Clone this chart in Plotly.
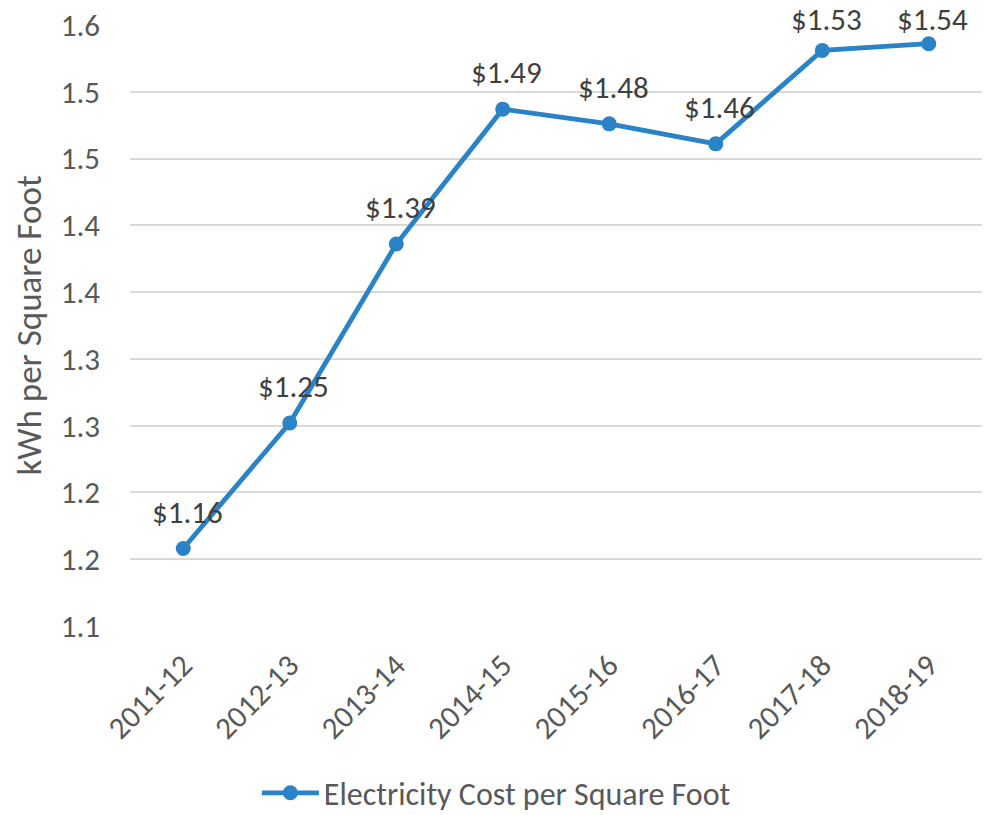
import plotly.graph_objects as go

years = ["2011-12", "2012-13", "2013-14", "2014-15", "2015-16", "2016-17", "2017-18", "2018-19"]
cost = [1.158, 1.252, 1.386, 1.487, 1.476, 1.461, 1.531, 1.536]
y_tickvals = [1.10, 1.15, 1.20, 1.25, 1.30, 1.35, 1.40, 1.45, 1.50, 1.55]
y_ticktext = ["1.1", "1.2", "1.2", "1.3", "1.3", "1.4", "1.4", "1.5", "1.5", "1.6"]

FONT = "Carlito, Lato, sans-serif"
BLUE = "#2A83C6"
Y0, Y1 = 1.10, 1.55
TOP, BOT, H = 25, 189, 815
PLOT_H = H - TOP - BOT

fig = go.Figure()
fig.add_trace(go.Scatter(
    x=years, y=cost, mode="lines+markers",
    name="Electricity Cost per Square Foot",
    line=dict(color=BLUE, width=4.8),
    marker=dict(color=BLUE, size=15),
    cliponaxis=False,
))

for x, v in zip(years, cost):
    py = TOP + (Y1 - v) / (Y1 - Y0) * PLOT_H
    center = max(19, py - 37)
    fig.add_annotation(x=x, y=v, text=f"${v:.2f}", showarrow=False,
                       xanchor="center", yanchor="middle", xshift=4, yshift=py - center,
                       font=dict(family=FONT, size=31, color="#404040"))

fig.update_layout(
    width=986, height=H,
    margin=dict(l=130, r=4, t=TOP, b=BOT),
    paper_bgcolor="white", plot_bgcolor="white",
    font=dict(family=FONT, size=31, color="#595959"),
    showlegend=True,
    legend=dict(orientation="h", x=0.43, xanchor="center",
                yref="container", y=(H - 793) / H, yanchor="middle",
                font=dict(size=32, color="#595959"), itemwidth=57),
    xaxis=dict(type="category", range=[-0.5, 7.5], tickangle=-45, showgrid=False,
               showline=False, ticks="", automargin=False, ticklabelstandoff=14,
               tickfont=dict(size=31, color="#595959")),
    yaxis=dict(range=[Y0, Y1], tickvals=y_tickvals, ticktext=y_ticktext,
               showgrid=True, gridcolor="#D9D9D9", gridwidth=1.5, zeroline=False,
               showline=False, ticks="", automargin=False, ticklabelstandoff=29,
               tickfont=dict(size=31, color="#595959"),
               title=dict(text="kWh per Square Foot", font=dict(size=35, color="#595959"), standoff=8)),
)

fig.write_html("out.html", config={"displayModeBar": False},
               post_script="document.body.style.margin='0';")
